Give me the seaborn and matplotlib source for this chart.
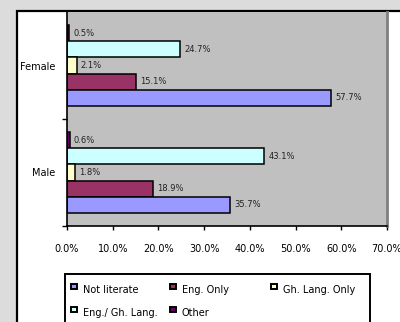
import matplotlib
matplotlib.use("Agg")
import matplotlib.pyplot as plt
from matplotlib.patches import Rectangle
from matplotlib.ticker import FuncFormatter, FixedLocator
import pandas as pd
import seaborn as sns

# Literacy by gender (% of respondents)
genders = ["Female", "Male"]
categories = ["Not literate", "Eng. Only", "Gh. Lang. Only", "Eng./ Gh. Lang.", "Other"]
female_values = [57.7, 15.1, 2.1, 24.7, 0.5]
male_values = [35.7, 18.9, 1.8, 43.1, 0.6]
colors = ["#9999FF", "#993366", "#FFFFCC", "#CCFFFF", "#660066"]
x_ticks = [0, 10, 20, 30, 40, 50, 60, 70]

rows = []
for g, vals in zip(genders, [female_values, male_values]):
    for c, v in zip(categories, vals):
        rows.append({"gender": g, "category": c, "value": v})
df = pd.DataFrame(rows)

sns.set_theme(style="white")
plt.rcParams["font.family"] = ["DejaVu Sans"]

W, H = 400, 322
fig = plt.figure(figsize=(W / 100, H / 100), dpi=100)
fig.patch.set_facecolor("#DCDCDC")

# white chart area with black frame (runs off the right and bottom edges)
fig.patches.append(Rectangle((16.5 / W, -0.1), 1.2, 1 - 10.5 / H + 0.1,
                             transform=fig.transFigure, facecolor="white",
                             edgecolor="black", linewidth=1.6, zorder=-5))

ax = fig.add_axes([67 / W, 1 - 226 / H, (387 - 67) / W, (226 - 12) / H])
ax.set_zorder(1)
ax.set_facecolor("#C0C0C0")

# top-to-bottom order inside each group: Other ... Not literate
hue_order = categories[::-1]
palette = dict(zip(categories, colors))
sns.barplot(data=df, y="gender", x="value", hue="category", order=genders,
            hue_order=hue_order, palette=palette, orient="h", width=0.75,
            saturation=1, edgecolor="black", linewidth=1.1, errorbar=None,
            legend=False, ax=ax)

for cont in ax.containers:
    ax.bar_label(cont, labels=[f"{b.get_width():.1f}%" for b in cont],
                 padding=3, fontsize=6, color="#222222")

ax.set_xlim(0, 70)
ax.set_ylim(1.5, -0.5)
ax.set_xlabel("")
ax.set_ylabel("")

ax.xaxis.set_major_locator(FixedLocator(x_ticks))
ax.xaxis.set_major_formatter(FuncFormatter(lambda v, p: f"{v:.1f}%"))
ax.tick_params(axis="x", which="major", direction="out", length=3, width=1,
               color="black", labelsize=7, pad=10, labelcolor="black", bottom=True)

ax.set_yticks([0, 1])
ax.set_yticklabels(genders)
ax.yaxis.set_minor_locator(FixedLocator([0.5, 1.5]))
ax.tick_params(axis="y", which="major", length=0, pad=8.5, labelsize=7,
               labelcolor="black", left=False)
ax.tick_params(axis="y", which="minor", direction="out", length=3.5, width=1,
               color="black", left=True)

for side in ["left", "bottom"]:
    ax.spines[side].set_color("black")
    ax.spines[side].set_linewidth(1.2)
ax.spines["right"].set_color("#808080")
ax.spines["right"].set_linewidth(2)
ax.spines["top"].set_visible(False)

# legend box, clipped at the bottom of the figure
fig.patches.append(Rectangle((65 / W, -0.1), (370 - 65) / W, 1 - 274 / H + 0.1,
                             transform=fig.transFigure, facecolor="white",
                             edgecolor="black", linewidth=1.4, zorder=2))
legend_pos = [(71, 290), (170, 290), (271, 290), (71, 313), (170, 313)]
for (lx, ly), cat, col in zip(legend_pos, categories, colors):
    fig.patches.append(Rectangle((lx / W, 1 - (ly - 1) / H), 5.5 / W, 5.5 / H,
                                 transform=fig.transFigure, facecolor=col,
                                 edgecolor="black", linewidth=1.4, zorder=3))
    fig.text((lx + 12) / W, 1 - ly / H, cat, fontsize=7, va="center",
             ha="left", color="black", zorder=4)

fig.savefig("out.png", dpi=100, facecolor=fig.get_facecolor())
